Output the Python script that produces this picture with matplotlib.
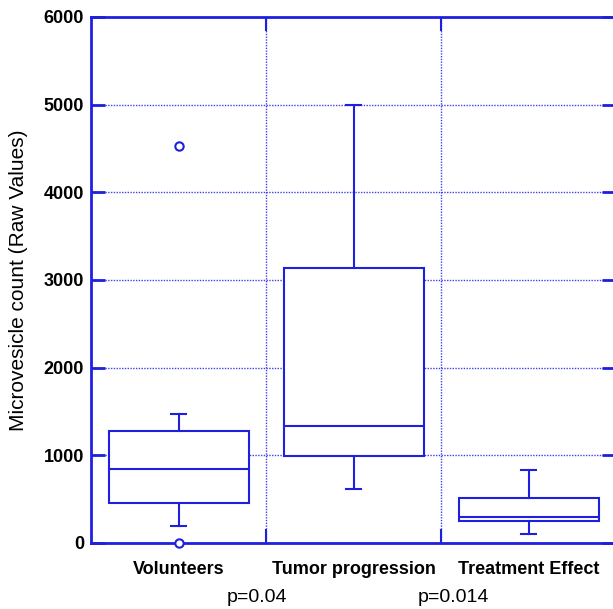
import matplotlib
matplotlib.use("Agg")
import matplotlib.pyplot as plt

# ── Data ──────────────────────────────────────────────────────────────────────
groups   = ["Volunteers", "Tumor progression", "Treatment Effect"]
q1       = [456, 992, 247]
medians  = [848, 1334, 296]
q3       = [1281, 3136, 513]
wlo      = [194, 612, 99]
whi      = [1468, 5000, 829]
outliers = [[4530, 0], [], []]
p_labels = ["p=0.04", "p=0.014"]
p_xpos   = [1.45, 2.57]
yticks   = [0, 1000, 2000, 3000, 4000, 5000, 6000]

BLUE = "#1f1fe0"
plt.rcParams["font.family"] = ["Liberation Sans", "DejaVu Sans"]

fig = plt.figure(figsize=(6.13, 6.09), dpi=100)
ax = fig.add_axes([0.1485, 0.1084, 0.8564, 0.8637])

stats = []
for i, name in enumerate(groups):
    stats.append({"label": name, "q1": q1[i], "med": medians[i], "q3": q3[i],
                  "whislo": wlo[i], "whishi": whi[i], "fliers": outliers[i]})

line = {"color": BLUE, "linewidth": 1.5}
bp = ax.bxp(stats, positions=[1, 2, 3], widths=0.8, patch_artist=True,
            boxprops={"facecolor": "white", "edgecolor": BLUE, "linewidth": 1.5},
            medianprops=line, whiskerprops=line,
            capprops=line, capwidths=0.09,
            flierprops={"marker": "o", "markerfacecolor": "white",
                        "markeredgecolor": BLUE, "markersize": 6,
                        "markeredgewidth": 1.5},
            zorder=3)
for fl in bp["fliers"]:
    fl.set_clip_on(False)
    fl.set_zorder(5)

ax.set_xlim(0.5, 3.5)
ax.set_ylim(0, 6000)

# separators as major x ticks, group names as minor ticks
ax.set_xticks([1.5, 2.5])
ax.set_xticklabels([])
ax.set_xticks([1, 2, 3], minor=True)
ax.set_xticklabels(groups, minor=True, fontsize=13, fontweight="bold")
ax.tick_params(axis="x", which="major", direction="in", length=10, width=1.5,
               color=BLUE, top=True)
ax.tick_params(axis="x", which="minor", length=0, pad=13)

ax.set_yticks(yticks)
ax.set_yticklabels([str(v) for v in yticks], fontsize=13, fontweight="bold")
ax.tick_params(axis="y", direction="in", length=10, width=2, color=BLUE,
               right=True, pad=5)

ax.grid(True, which="major", color=BLUE, linestyle=(0, (1, 1)),
        linewidth=1.0, alpha=0.85)
ax.set_axisbelow(True)

for sp in ax.spines.values():
    sp.set_color(BLUE)
    sp.set_linewidth(2)

ax.set_ylabel("Microvesicle count (Raw Values)", fontsize=15)
ax.yaxis.set_label_coords(-0.12, 0.5)

for x, t in zip(p_xpos, p_labels):
    ax.text(x, -0.104, t, transform=ax.get_xaxis_transform(),
            ha="center", va="center", fontsize=14)

fig.savefig("out.png", dpi=100)
